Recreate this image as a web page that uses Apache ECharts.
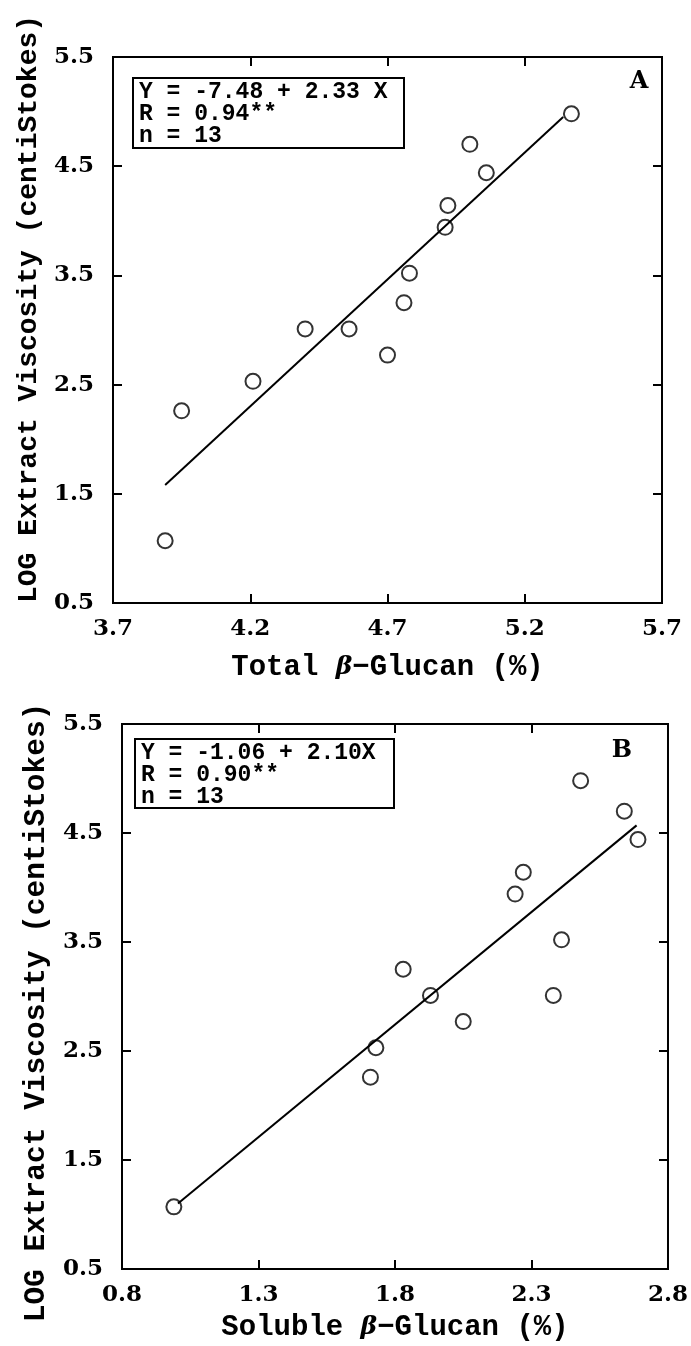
<!DOCTYPE html>
<html><head><meta charset="utf-8">
<script src="https://cdn.jsdelivr.net/npm/echarts@6/dist/echarts.min.js"></script>
<style>html,body{margin:0;padding:0;background:#fff}#c{width:691px;height:1346px}</style>
</head><body><div id="c"></div>
<script>
// Data
const totalBetaGlucan   = [5.37, 5.00, 5.06, 4.92, 4.91, 4.78, 4.76, 4.40, 4.56, 4.70, 4.21, 3.95, 3.89];
const solubleBetaGlucan = [2.48, 2.64, 2.69, 2.27, 2.24, 2.41, 1.83, 1.93, 2.38, 2.05, 1.73, 1.71, 0.99];
const logViscosity      = [4.98, 4.70, 4.44, 4.14, 3.94, 3.52, 3.25, 3.01, 3.01, 2.77, 2.53, 2.26, 1.07];
// Regression line end points (as drawn)
const fitATotal = [3.89, 5.34];
const fitALog   = [1.58, 4.95];
const fitBSoluble = [1.005, 2.685];
const fitBLog     = [1.10, 4.57];
// Tick labels
const xTicksA = [3.7, 4.2, 4.7, 5.2, 5.7];
const xTicksB = [0.8, 1.3, 1.8, 2.3, 2.8];
const yTicks  = [0.5, 1.5, 2.5, 3.5, 4.5, 5.5];
const legendA = ['Y = -7.48 + 2.33 X', 'R = 0.94**', 'n = 13'];
const legendB = ['Y = -1.06 + 2.10X', 'R = 0.90**', 'n = 13'];
const panelLabels = ['A', 'B'];
const yTitle = 'LOG Extract Viscosity (centiStokes)';
const xTitleA = ['Total ', 'β', '−Glucan (%)'];
const xTitleB = ['Soluble ', 'β', '−Glucan (%)'];

const MONO = 'Liberation Mono';
const SERIF = 'DejaVu Serif';
const inner = a => a.slice(1, -1);
const labelStyle = { color: '#000', fontFamily: SERIF, fontWeight: 'bold', fontSize: 23 };
const tickStyle = { lineStyle: { color: '#000', width: 2 } };

function xAxes(grid, ticks, title, gap) {
  const base = { type: 'value', gridIndex: grid, min: ticks[0], max: ticks[ticks.length - 1],
    axisLine: { show: false }, splitLine: { show: false } };
  return [
    Object.assign({}, base, {
      position: 'bottom',
      axisTick: Object.assign({ inside: true, length: 9, customValues: inner(ticks) }, tickStyle),
      axisLabel: Object.assign({ customValues: ticks, margin: 15, formatter: v => v.toFixed(1) }, labelStyle),
      name: '{a|' + title[0] + '}{b|' + title[1] + '}{a|' + title[2] + '}',
      nameLocation: 'middle', nameGap: gap,
      nameTextStyle: { rich: {
        a: { fontFamily: MONO, fontWeight: 'bold', fontSize: 29, color: '#000' },
        b: { fontFamily: SERIF, fontWeight: 'bold', fontStyle: 'italic', fontSize: 25, color: '#000' } } }
    }),
    Object.assign({}, base, {
      position: 'top',
      axisTick: Object.assign({ inside: true, length: 9, customValues: inner(ticks) }, tickStyle),
      axisLabel: { show: false }
    })
  ];
}
function yAxes(grid, size, pad) {
  const base = { type: 'value', gridIndex: grid, min: yTicks[0], max: yTicks[yTicks.length - 1],
    axisLine: { show: false }, splitLine: { show: false } };
  return [
    Object.assign({}, base, {
      position: 'left',
      axisTick: Object.assign({ inside: true, length: 9, customValues: inner(yTicks) }, tickStyle),
      axisLabel: Object.assign({ customValues: yTicks, margin: 19, formatter: v => v.toFixed(1) }, labelStyle),
      name: yTitle, nameLocation: 'middle', nameGap: 70,
      nameTextStyle: { fontFamily: MONO, fontWeight: 'bold', fontSize: size, color: '#000', padding: pad }
    }),
    Object.assign({}, base, {
      position: 'right',
      axisTick: Object.assign({ inside: true, length: 9, customValues: inner(yTicks) }, tickStyle),
      axisLabel: { show: false }
    })
  ];
}
const pts = (xs, ys) => xs.map((x, i) => [x, ys[i]]);
const scatterStyle = { color: 'rgba(0,0,0,0)', borderColor: '#000', borderWidth: 2 };

function legendBox(x, y, w, h, lines) {
  return [
    { type: 'rect', shape: { x: x, y: y, width: w, height: h },
      style: { fill: '#fff', stroke: '#000', lineWidth: 2 }, z: 10 },
    { type: 'text', x: x + 6, y: y + 3, z: 11,
      style: { text: lines.join('\n'), fontFamily: MONO, fontWeight: 'bold',
        fontSize: 23, lineHeight: 22, fill: '#000' } }
  ];
}

const chart = echarts.init(document.getElementById('c'), null, { renderer: 'canvas' });
chart.setOption({
  animation: false,
  backgroundColor: '#fff',
  grid: [
    { left: 113, top: 57, width: 549, height: 546, show: true, borderColor: '#000', borderWidth: 2 },
    { left: 122, top: 724, width: 550, height: 545, show: true, borderColor: '#000', borderWidth: 2 }
  ],
  xAxis: xAxes(0, xTicksA, xTitleA, 50).concat(xAxes(1, xTicksB, xTitleB, 44)),
  yAxis: yAxes(0, 28, [0, 0, 0, 42]).concat(yAxes(1, 29.5, [0, 32, 0, 0])),
  series: [
    { type: 'line', xAxisIndex: 0, yAxisIndex: 0, data: pts(fitATotal, fitALog), symbol: 'none',
      lineStyle: { color: '#000', width: 2 } },
    { type: 'scatter', xAxisIndex: 0, yAxisIndex: 0, data: pts(totalBetaGlucan, logViscosity),
      symbol: 'circle', symbolSize: 15, itemStyle: scatterStyle },
    { type: 'line', xAxisIndex: 2, yAxisIndex: 2, data: pts(fitBSoluble, fitBLog), symbol: 'none',
      lineStyle: { color: '#000', width: 2 } },
    { type: 'scatter', xAxisIndex: 2, yAxisIndex: 2, data: pts(solubleBetaGlucan, logViscosity),
      symbol: 'circle', symbolSize: 15, itemStyle: scatterStyle }
  ],
  graphic: legendBox(133, 78, 271, 70, legendA).concat(legendBox(135, 739, 259, 69, legendB)).concat([
    { type: 'text', x: 639, y: 82, z: 11, style: { text: panelLabels[0], fontFamily: SERIF, fontWeight: 'bold',
      fontSize: 24, fill: '#000', align: 'center', verticalAlign: 'middle' } },
    { type: 'text', x: 622, y: 751, z: 11, style: { text: panelLabels[1], fontFamily: SERIF, fontWeight: 'bold',
      fontSize: 24, fill: '#000', align: 'center', verticalAlign: 'middle' } }
  ])
});
</script></body></html>
